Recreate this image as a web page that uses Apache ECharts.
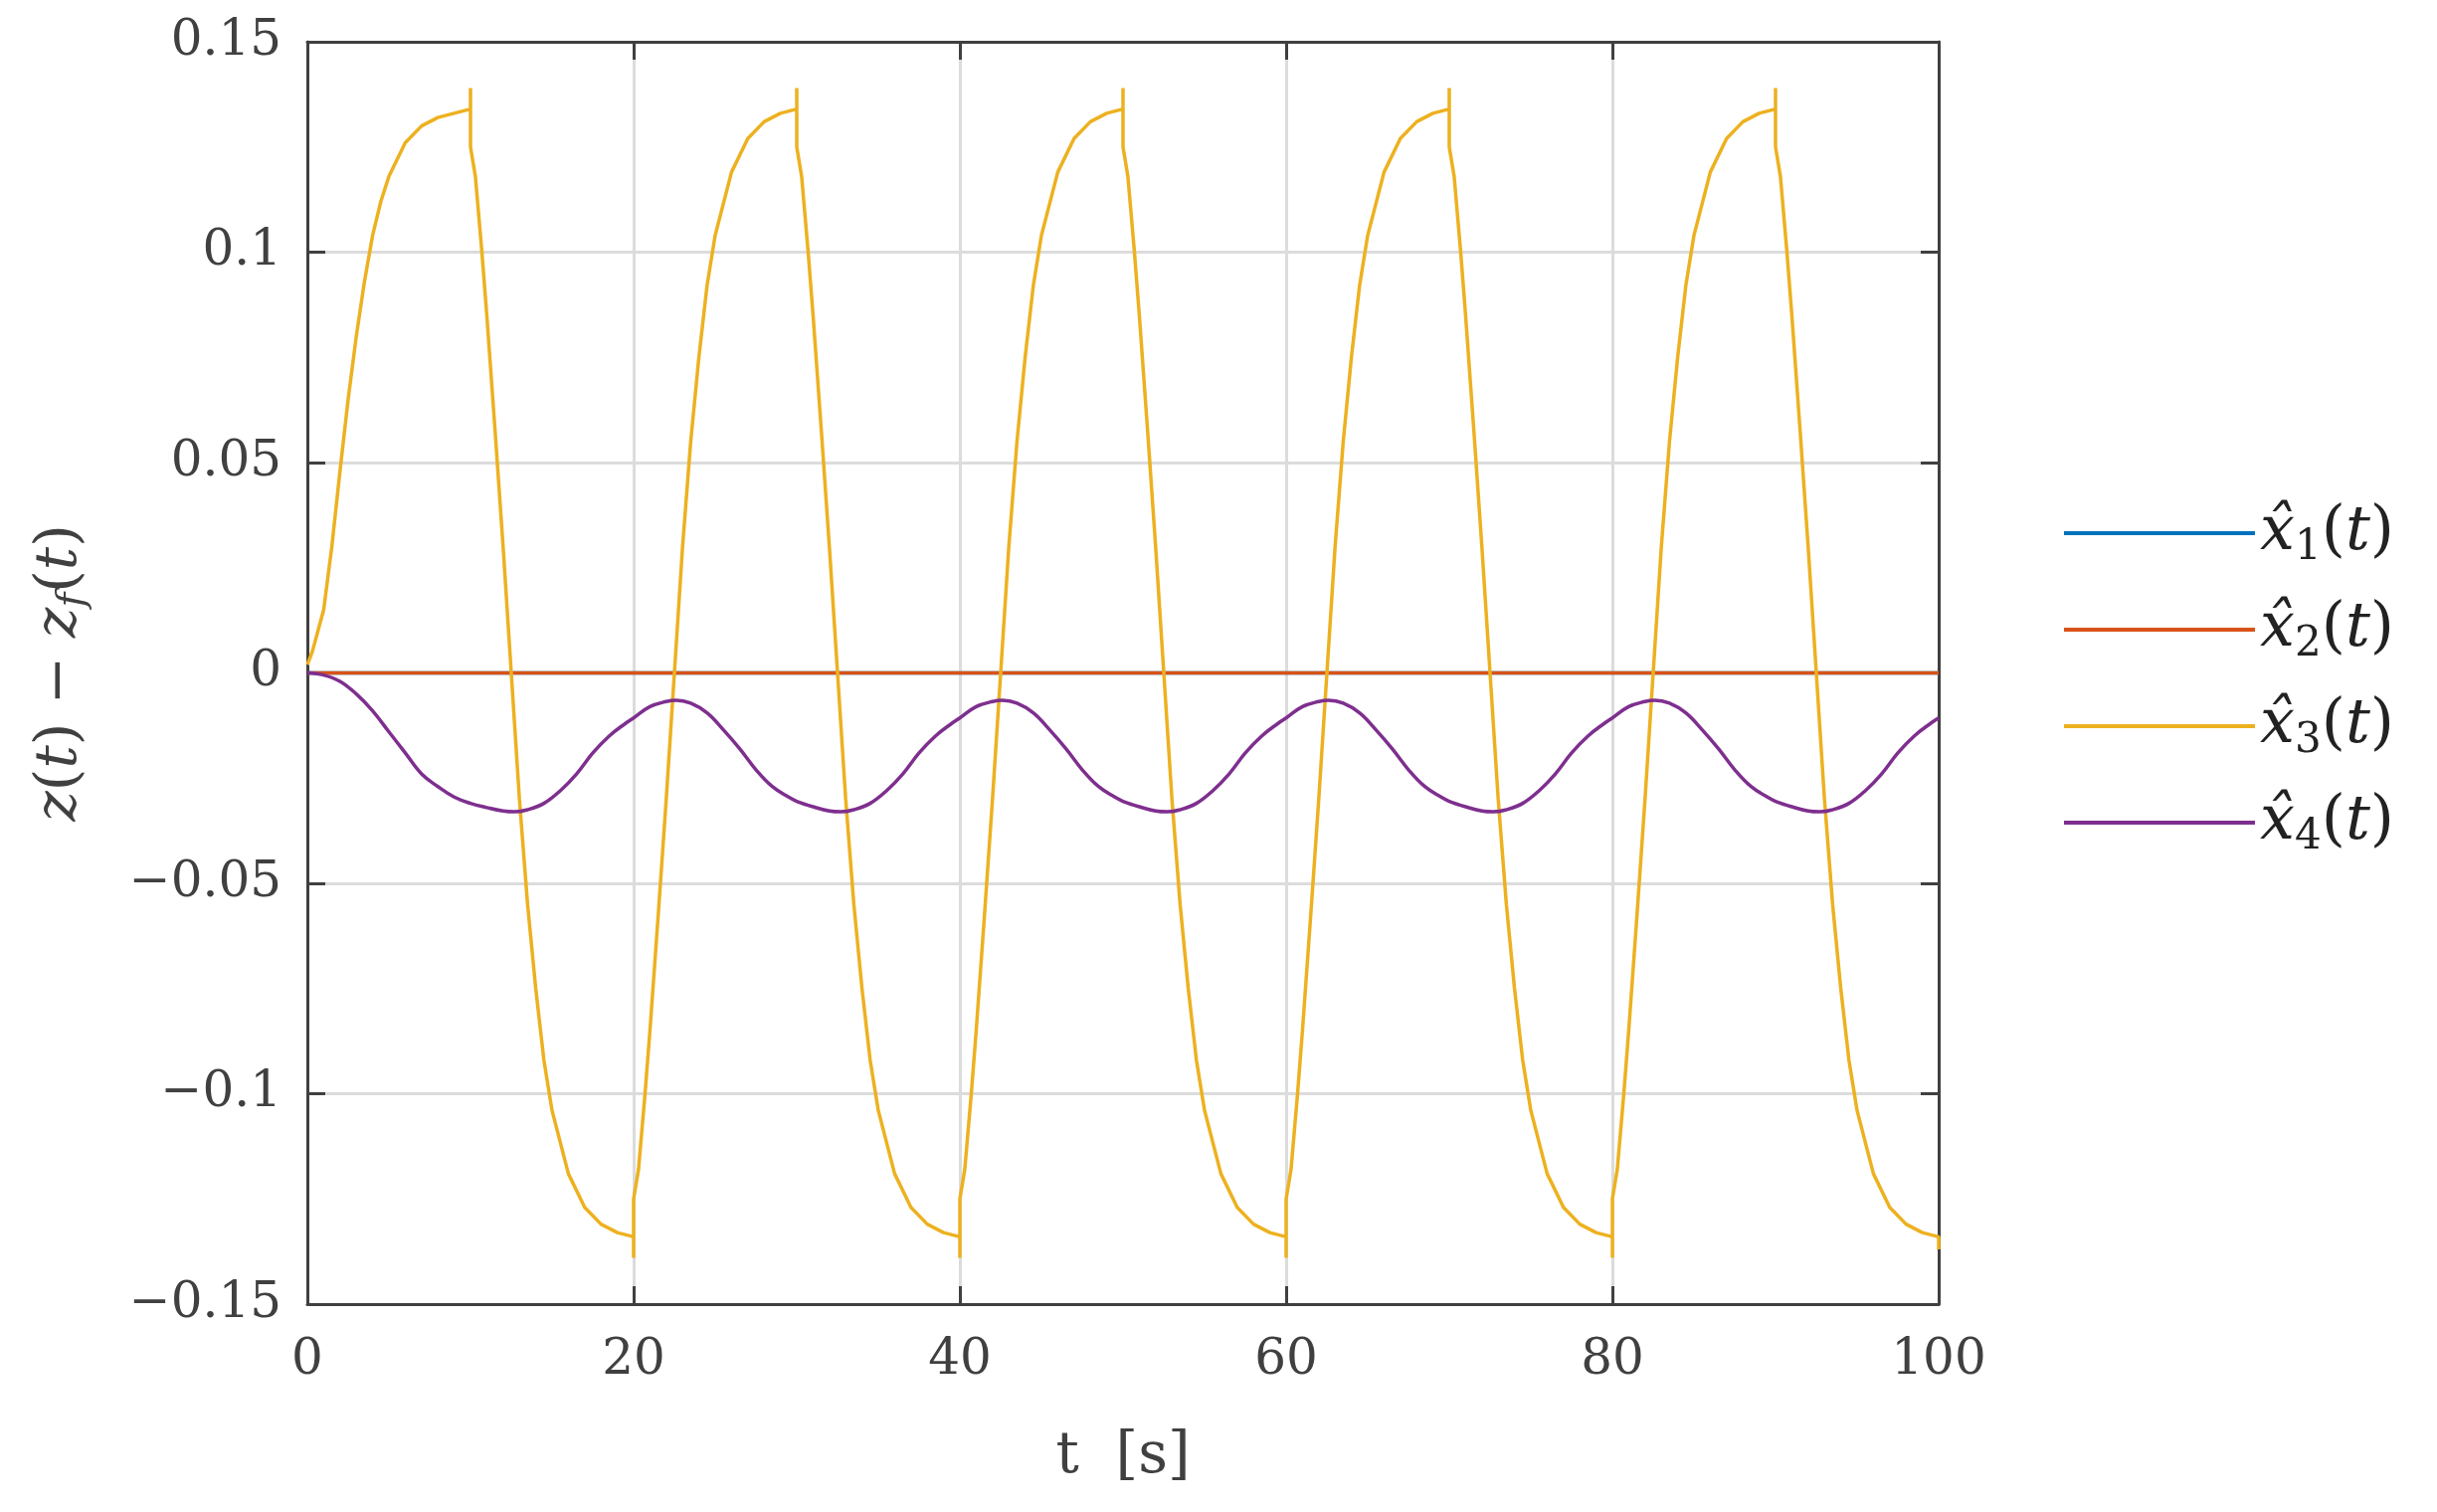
<!DOCTYPE html>
<html><head><meta charset="utf-8">
<script src="https://cdn.jsdelivr.net/npm/echarts@6/dist/echarts.min.js"></script>
<style>html,body{margin:0;padding:0;background:#fff}#c{width:2450px;height:1520px}</style>
</head><body><div id="c"></div>
<script>
const seriesNames = ['x1','x2','x3','x4'];
const colors = ['#0072BD','#D95319','#EDB120','#7E2F8E'];
const x1 = [[0,0],[100,0]];
const x2 = [[0,0],[100,0]];
const x3 = [
[0,0.002],[0.3,0.005],[1,0.015],[1.5,0.03],[2,0.048],[2.5,0.065],[3,0.08],[3.5,0.093],[4,0.104],[4.5,0.112],[5,0.118],[6,0.126],[7,0.13],[8,0.132],[9,0.133],[10,0.134],[10,0.139],[10,0.125],
[10.3,0.118],[10.7,0.1],[11,0.085],[11.5,0.058],[12,0.03],[12.5,0],[13,-0.03],[13.5,-0.055],[14,-0.075],[14.5,-0.092],[15,-0.104],[16,-0.119],[17,-0.127],[18,-0.131],[19,-0.133],[20,-0.134],[20,-0.139],[20,-0.125],
[20.3,-0.118],[20.7,-0.1],[21,-0.085],[21.5,-0.058],[22,-0.03],[22.5,0],[23,0.03],[23.5,0.055],[24,0.075],[24.5,0.092],[25,0.104],[26,0.119],[27,0.127],[28,0.131],[29,0.133],[30,0.134],[30,0.139],[30,0.125],
[30.3,0.118],[30.7,0.1],[31,0.085],[31.5,0.058],[32,0.03],[32.5,0],[33,-0.03],[33.5,-0.055],[34,-0.075],[34.5,-0.092],[35,-0.104],[36,-0.119],[37,-0.127],[38,-0.131],[39,-0.133],[40,-0.134],[40,-0.139],[40,-0.125],
[40.3,-0.118],[40.7,-0.1],[41,-0.085],[41.5,-0.058],[42,-0.03],[42.5,0],[43,0.03],[43.5,0.055],[44,0.075],[44.5,0.092],[45,0.104],[46,0.119],[47,0.127],[48,0.131],[49,0.133],[50,0.134],[50,0.139],[50,0.125],
[50.3,0.118],[50.7,0.1],[51,0.085],[51.5,0.058],[52,0.03],[52.5,0],[53,-0.03],[53.5,-0.055],[54,-0.075],[54.5,-0.092],[55,-0.104],[56,-0.119],[57,-0.127],[58,-0.131],[59,-0.133],[60,-0.134],[60,-0.139],[60,-0.125],
[60.3,-0.118],[60.7,-0.1],[61,-0.085],[61.5,-0.058],[62,-0.03],[62.5,0],[63,0.03],[63.5,0.055],[64,0.075],[64.5,0.092],[65,0.104],[66,0.119],[67,0.127],[68,0.131],[69,0.133],[70,0.134],[70,0.139],[70,0.125],
[70.3,0.118],[70.7,0.1],[71,0.085],[71.5,0.058],[72,0.03],[72.5,0],[73,-0.03],[73.5,-0.055],[74,-0.075],[74.5,-0.092],[75,-0.104],[76,-0.119],[77,-0.127],[78,-0.131],[79,-0.133],[80,-0.134],[80,-0.139],[80,-0.125],
[80.3,-0.118],[80.7,-0.1],[81,-0.085],[81.5,-0.058],[82,-0.03],[82.5,0],[83,0.03],[83.5,0.055],[84,0.075],[84.5,0.092],[85,0.104],[86,0.119],[87,0.127],[88,0.131],[89,0.133],[90,0.134],[90,0.139],[90,0.125],
[90.3,0.118],[90.7,0.1],[91,0.085],[91.5,0.058],[92,0.03],[92.5,0],[93,-0.03],[93.5,-0.055],[94,-0.075],[94.5,-0.092],[95,-0.104],[96,-0.119],[97,-0.127],[98,-0.131],[99,-0.133],[100,-0.134],[100,-0.137]
];
const x4 = [
[0,0],[1,-0.0005],[2,-0.002],[3,-0.005],[4,-0.009],[5,-0.014],[6,-0.019],[7,-0.024],[8,-0.027],[9,-0.0295],[10,-0.031],[11,-0.032],[12,-0.0328],[12.7,-0.033],[13.5,-0.0325],[14.5,-0.031],[15.5,-0.028],[16.5,-0.024],[17.5,-0.019],[18.5,-0.015],[19.5,-0.012],[20,-0.0107],[21,-0.008],[22,-0.0068],[22.6,-0.0065],[23.5,-0.0072],[24.5,-0.0095],[25.5,-0.0135],[26.5,-0.018],[27.5,-0.023],[28.5,-0.027],[29.5,-0.0295],[30,-0.0305],[31,-0.0318],[32,-0.0328],[32.7,-0.033],[33.5,-0.0325],[34.5,-0.031],[35.5,-0.028],[36.5,-0.024],[37.5,-0.019],[38.5,-0.015],[39.5,-0.012],[40,-0.0107],[41,-0.008],[42,-0.0068],[42.6,-0.0065],[43.5,-0.0072],[44.5,-0.0095],[45.5,-0.0135],[46.5,-0.018],[47.5,-0.023],[48.5,-0.027],[49.5,-0.0295],[50,-0.0305],[51,-0.0318],[52,-0.0328],[52.7,-0.033],[53.5,-0.0325],[54.5,-0.031],[55.5,-0.028],[56.5,-0.024],[57.5,-0.019],[58.5,-0.015],[59.5,-0.012],[60,-0.0107],[61,-0.008],[62,-0.0068],[62.6,-0.0065],[63.5,-0.0072],[64.5,-0.0095],[65.5,-0.0135],[66.5,-0.018],[67.5,-0.023],[68.5,-0.027],[69.5,-0.0295],[70,-0.0305],[71,-0.0318],[72,-0.0328],[72.7,-0.033],[73.5,-0.0325],[74.5,-0.031],[75.5,-0.028],[76.5,-0.024],[77.5,-0.019],[78.5,-0.015],[79.5,-0.012],[80,-0.0107],[81,-0.008],[82,-0.0068],[82.6,-0.0065],[83.5,-0.0072],[84.5,-0.0095],[85.5,-0.0135],[86.5,-0.018],[87.5,-0.023],[88.5,-0.027],[89.5,-0.0295],[90,-0.0305],[91,-0.0318],[92,-0.0328],[92.7,-0.033],[93.5,-0.0325],[94.5,-0.031],[95.5,-0.028],[96.5,-0.024],[97.5,-0.019],[98.5,-0.015],[99.5,-0.012],[100,-0.0107]
];
const legendSubs = {x1:'1',x2:'2',x3:'3',x4:'4'};
const font = 'DejaVu Serif';
const tc = '#404040';
const chart = echarts.init(document.getElementById('c'));
const minus = v => (v<0?'−':'') + Math.abs(Math.round(v*1000)/1000);
const axisCommon = {
  axisLine:{show:true,onZero:false,lineStyle:{color:tc,width:3}},
  axisTick:{show:true,inside:true,length:18,lineStyle:{color:tc,width:3}},
  splitLine:{show:false}
};
const dataList = [x1,x2,x3,x4];
chart.setOption({
  animation:false,
  backgroundColor:'#fff',
  grid:{left:309,right:501,top:42,bottom:209},
  legend:{
    orient:'vertical',left:2070,top:500,itemWidth:192,itemHeight:4,itemGap:30,
    icon:'rect',
    data:seriesNames,
    formatter:n=>'{i|x̂}{s|'+legendSubs[n]+'}{n|(}{i|t}{n|)}',
    textStyle:{rich:{
      i:{fontFamily:font,fontStyle:'italic',fontSize:62,color:'#222'},
      n:{fontFamily:font,fontSize:62,color:'#222'},
      s:{fontFamily:font,fontSize:42,color:'#222',verticalAlign:'bottom',padding:[30,0,0,0]}
    }}
  },
  xAxis:[
    Object.assign({type:'value',min:0,max:100,interval:20,position:'bottom',
      name:'t  [s]',nameLocation:'middle',nameGap:125,
      nameTextStyle:{fontFamily:font,fontSize:58,color:tc},
      axisLabel:{fontFamily:font,fontSize:50,color:tc,margin:32},
    },axisCommon,{splitLine:{show:true,lineStyle:{color:'#dcdcdc',width:3}}}),
    Object.assign({type:'value',min:0,max:100,interval:20,position:'top',axisLabel:{show:false}},axisCommon)
  ],
  yAxis:[
    Object.assign({type:'value',min:-0.15,max:0.15,interval:0.05,position:'left',
      name:'{i|z}{n|(}{i|t}{n|) − }{i|z}{s|f}{n|(}{i|t}{n|)}',nameLocation:'middle',nameGap:215,nameRotate:90,
      nameTextStyle:{rich:{
        i:{fontFamily:font,fontStyle:'italic',fontSize:58,color:tc},
        n:{fontFamily:font,fontSize:58,color:tc},
        s:{fontFamily:font,fontStyle:'italic',fontSize:40,color:tc,padding:[26,0,0,0]}
      }},
      axisLabel:{fontFamily:font,fontSize:50,color:tc,margin:26,formatter:minus},
    },axisCommon,{splitLine:{show:true,lineStyle:{color:'#dcdcdc',width:3}}}),
    Object.assign({type:'value',min:-0.15,max:0.15,interval:0.05,position:'right',axisLabel:{show:false}},axisCommon)
  ],
  series:seriesNames.map((n,i)=>({
    name:n,type:'line',data:dataList[i],showSymbol:false,symbol:'none',
    smooth: i===3 ? 0.4 : false,
    color:colors[i],lineStyle:{width:3.5,color:colors[i]},z:i+2
  }))
});
</script></body></html>
